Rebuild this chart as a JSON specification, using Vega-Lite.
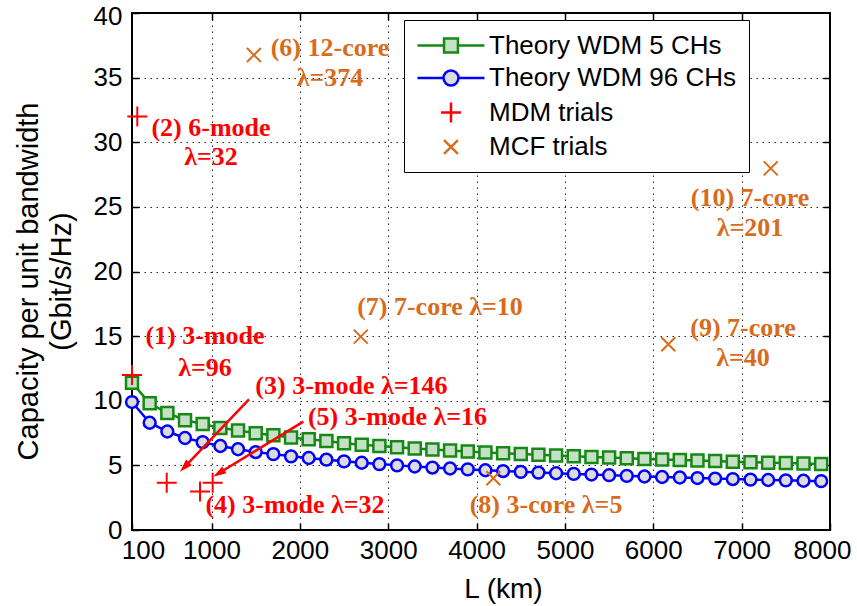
{
  "$schema": "https://vega.github.io/schema/vega-lite/v6.json",
  "width": 698,
  "height": 517,
  "autosize": "none",
  "padding": {"left": 132, "top": 13, "right": 27, "bottom": 76},
  "background": "white",
  "config": {
    "view": {"stroke": "black", "strokeWidth": 2},
    "axis": {
      "labelFont": "Liberation Sans",
      "labelFontSize": 26,
      "labelColor": "black",
      "titleFont": "Liberation Sans",
      "titleFontSize": 28,
      "titleFontWeight": "normal",
      "titleColor": "black",
      "tickColor": "black",
      "tickWidth": 1.5,
      "domain": false
    }
  },
  "datasets": {
    "theory": [
      {"series": "Theory WDM 5 CHs", "L": 100, "cap": 11.4},
      {"series": "Theory WDM 5 CHs", "L": 300, "cap": 9.8},
      {"series": "Theory WDM 5 CHs", "L": 500, "cap": 9.05},
      {"series": "Theory WDM 5 CHs", "L": 700, "cap": 8.5},
      {"series": "Theory WDM 5 CHs", "L": 900, "cap": 8.2},
      {"series": "Theory WDM 5 CHs", "L": 1100, "cap": 7.9},
      {"series": "Theory WDM 5 CHs", "L": 1300, "cap": 7.7},
      {"series": "Theory WDM 5 CHs", "L": 1500, "cap": 7.48},
      {"series": "Theory WDM 5 CHs", "L": 1700, "cap": 7.33},
      {"series": "Theory WDM 5 CHs", "L": 1900, "cap": 7.15},
      {"series": "Theory WDM 5 CHs", "L": 2100, "cap": 7.02},
      {"series": "Theory WDM 5 CHs", "L": 2300, "cap": 6.88},
      {"series": "Theory WDM 5 CHs", "L": 2500, "cap": 6.72},
      {"series": "Theory WDM 5 CHs", "L": 2700, "cap": 6.6},
      {"series": "Theory WDM 5 CHs", "L": 2900, "cap": 6.5},
      {"series": "Theory WDM 5 CHs", "L": 3100, "cap": 6.4},
      {"series": "Theory WDM 5 CHs", "L": 3300, "cap": 6.3},
      {"series": "Theory WDM 5 CHs", "L": 3500, "cap": 6.22},
      {"series": "Theory WDM 5 CHs", "L": 3700, "cap": 6.15},
      {"series": "Theory WDM 5 CHs", "L": 3900, "cap": 6.08},
      {"series": "Theory WDM 5 CHs", "L": 4100, "cap": 6.0},
      {"series": "Theory WDM 5 CHs", "L": 4300, "cap": 5.94},
      {"series": "Theory WDM 5 CHs", "L": 4500, "cap": 5.88},
      {"series": "Theory WDM 5 CHs", "L": 4700, "cap": 5.82},
      {"series": "Theory WDM 5 CHs", "L": 4900, "cap": 5.76},
      {"series": "Theory WDM 5 CHs", "L": 5100, "cap": 5.71},
      {"series": "Theory WDM 5 CHs", "L": 5300, "cap": 5.65},
      {"series": "Theory WDM 5 CHs", "L": 5500, "cap": 5.6},
      {"series": "Theory WDM 5 CHs", "L": 5700, "cap": 5.55},
      {"series": "Theory WDM 5 CHs", "L": 5900, "cap": 5.5},
      {"series": "Theory WDM 5 CHs", "L": 6100, "cap": 5.45},
      {"series": "Theory WDM 5 CHs", "L": 6300, "cap": 5.41},
      {"series": "Theory WDM 5 CHs", "L": 6500, "cap": 5.37},
      {"series": "Theory WDM 5 CHs", "L": 6700, "cap": 5.33},
      {"series": "Theory WDM 5 CHs", "L": 6900, "cap": 5.29},
      {"series": "Theory WDM 5 CHs", "L": 7100, "cap": 5.25},
      {"series": "Theory WDM 5 CHs", "L": 7300, "cap": 5.21},
      {"series": "Theory WDM 5 CHs", "L": 7500, "cap": 5.18},
      {"series": "Theory WDM 5 CHs", "L": 7700, "cap": 5.14},
      {"series": "Theory WDM 5 CHs", "L": 7900, "cap": 5.11},
      {"series": "Theory WDM 96 CHs", "L": 100, "cap": 9.9},
      {"series": "Theory WDM 96 CHs", "L": 300, "cap": 8.3},
      {"series": "Theory WDM 96 CHs", "L": 500, "cap": 7.62},
      {"series": "Theory WDM 96 CHs", "L": 700, "cap": 7.12},
      {"series": "Theory WDM 96 CHs", "L": 900, "cap": 6.8},
      {"series": "Theory WDM 96 CHs", "L": 1100, "cap": 6.5},
      {"series": "Theory WDM 96 CHs", "L": 1300, "cap": 6.25},
      {"series": "Theory WDM 96 CHs", "L": 1500, "cap": 6.03},
      {"series": "Theory WDM 96 CHs", "L": 1700, "cap": 5.87},
      {"series": "Theory WDM 96 CHs", "L": 1900, "cap": 5.7},
      {"series": "Theory WDM 96 CHs", "L": 2100, "cap": 5.57},
      {"series": "Theory WDM 96 CHs", "L": 2300, "cap": 5.44},
      {"series": "Theory WDM 96 CHs", "L": 2500, "cap": 5.31},
      {"series": "Theory WDM 96 CHs", "L": 2700, "cap": 5.2},
      {"series": "Theory WDM 96 CHs", "L": 2900, "cap": 5.1},
      {"series": "Theory WDM 96 CHs", "L": 3100, "cap": 5.0},
      {"series": "Theory WDM 96 CHs", "L": 3300, "cap": 4.91},
      {"series": "Theory WDM 96 CHs", "L": 3500, "cap": 4.83},
      {"series": "Theory WDM 96 CHs", "L": 3700, "cap": 4.76},
      {"series": "Theory WDM 96 CHs", "L": 3900, "cap": 4.69},
      {"series": "Theory WDM 96 CHs", "L": 4100, "cap": 4.62},
      {"series": "Theory WDM 96 CHs", "L": 4300, "cap": 4.56},
      {"series": "Theory WDM 96 CHs", "L": 4500, "cap": 4.5},
      {"series": "Theory WDM 96 CHs", "L": 4700, "cap": 4.44},
      {"series": "Theory WDM 96 CHs", "L": 4900, "cap": 4.39},
      {"series": "Theory WDM 96 CHs", "L": 5100, "cap": 4.34},
      {"series": "Theory WDM 96 CHs", "L": 5300, "cap": 4.29},
      {"series": "Theory WDM 96 CHs", "L": 5500, "cap": 4.24},
      {"series": "Theory WDM 96 CHs", "L": 5700, "cap": 4.19},
      {"series": "Theory WDM 96 CHs", "L": 5900, "cap": 4.14},
      {"series": "Theory WDM 96 CHs", "L": 6100, "cap": 4.1},
      {"series": "Theory WDM 96 CHs", "L": 6300, "cap": 4.06},
      {"series": "Theory WDM 96 CHs", "L": 6500, "cap": 4.02},
      {"series": "Theory WDM 96 CHs", "L": 6700, "cap": 3.98},
      {"series": "Theory WDM 96 CHs", "L": 6900, "cap": 3.94},
      {"series": "Theory WDM 96 CHs", "L": 7100, "cap": 3.9},
      {"series": "Theory WDM 96 CHs", "L": 7300, "cap": 3.87},
      {"series": "Theory WDM 96 CHs", "L": 7500, "cap": 3.84},
      {"series": "Theory WDM 96 CHs", "L": 7700, "cap": 3.81},
      {"series": "Theory WDM 96 CHs", "L": 7900, "cap": 3.78}
    ],
    "trials": [
      {"series": "MDM trials", "id": 1, "L": 100, "cap": 12.0},
      {"series": "MDM trials", "id": 2, "L": 160, "cap": 32.0},
      {"series": "MDM trials", "id": 3, "L": 493, "cap": 3.66},
      {"series": "MDM trials", "id": 4, "L": 870, "cap": 2.97},
      {"series": "MDM trials", "id": 5, "L": 1013, "cap": 3.66},
      {"series": "MCF trials", "id": 6, "L": 1480, "cap": 36.75},
      {"series": "MCF trials", "id": 7, "L": 2689, "cap": 14.96},
      {"series": "MCF trials", "id": 8, "L": 4190, "cap": 4.0},
      {"series": "MCF trials", "id": 9, "L": 6170, "cap": 14.37},
      {"series": "MCF trials", "id": 10, "L": 7329, "cap": 27.98}
    ],
    "notes": [
      {"kind": "MDM", "text": "(1) 3-mode", "L": 926, "cap": 15.0},
      {"kind": "MDM", "text": "λ=96", "L": 926, "cap": 12.55},
      {"kind": "MDM", "text": "(2) 6-mode", "L": 994, "cap": 31.1},
      {"kind": "MDM", "text": "λ=32", "L": 994, "cap": 28.85},
      {"kind": "MDM", "text": "(3) 3-mode λ=146", "L": 2584, "cap": 11.14},
      {"kind": "MDM", "text": "(5) 3-mode λ=16", "L": 3105, "cap": 8.77},
      {"kind": "MDM", "text": "(4) 3-mode λ=32", "L": 1945, "cap": 1.9},
      {"kind": "MCF", "text": "(6) 12-core", "L": 2341, "cap": 37.29},
      {"kind": "MCF", "text": "λ=374", "L": 2341, "cap": 34.97},
      {"kind": "MCF", "text": "(7) 7-core λ=10", "L": 3586, "cap": 17.28},
      {"kind": "MCF", "text": "(8) 3-core λ=5", "L": 4786, "cap": 1.95},
      {"kind": "MCF", "text": "(9) 7-core", "L": 7016, "cap": 15.6},
      {"kind": "MCF", "text": "λ=40", "L": 7016, "cap": 13.28},
      {"kind": "MCF", "text": "(10) 7-core", "L": 7095, "cap": 25.66},
      {"kind": "MCF", "text": "λ=201", "L": 7095, "cap": 23.34}
    ],
    "arrows": [
      {"arrow": "to3", "L": 1424, "cap": 10.11, "L2": 694, "cap2": 4.87},
      {"arrow": "to5", "L": 2039, "cap": 8.38, "L2": 1082, "cap2": 4.39}
    ],
    "keys": [
      {"series": "Theory WDM 5 CHs"},
      {"series": "Theory WDM 96 CHs"},
      {"series": "MDM trials"},
      {"series": "MCF trials"}
    ]
  },
  "resolve": {"axis": {"x": "independent", "y": "independent"}},
  "layer": [
    {
      "data": {"name": "theory"},
      "transform": [{"filter": "datum.series === 'Theory WDM 5 CHs'"}],
      "mark": {"type": "line", "color": "#148a14", "strokeWidth": 2.5},
      "encoding": {
        "x": {
          "field": "L", "type": "quantitative",
          "scale": {"domain": [100, 8000], "nice": false, "zero": false},
          "axis": {
            "orient": "bottom",
            "values": [100, 1000, 2000, 3000, 4000, 5000, 6000, 7000, 8000],
            "format": "d",
            "title": "L (km)",
            "titleX": 371,
            "titlePadding": 12,
            "tickSize": -7,
            "labelPadding": 14,
            "labelOffset": {"condition": [{"test": "datum.value === 100", "value": 11}, {"test": "datum.value === 8000", "value": -8}], "value": 0},
            "labelFlush": false,
            "labelOverlap": false,
            "grid": true,
            "gridColor": "black",
            "gridDash": [1.5, 4.5],
            "gridWidth": 1,
            "gridOpacity": 0.85
          }
        },
        "y": {
          "field": "cap", "type": "quantitative",
          "scale": {"domain": [0, 40], "nice": false},
          "axis": {
            "orient": "left",
            "values": [0, 5, 10, 15, 20, 25, 30, 35, 40],
            "title": ["Capacity per unit bandwidth", "(Gbit/s/Hz)"],
            "titleFontSize": 29,
            "titleLineHeight": 33,
            "titlePadding": 17,
            "titleY": 268,
            "tickSize": -7,
            "labelPadding": 17,
            "labelOffset": {"condition": {"test": "datum.value === 40", "value": 3}, "value": 0},
            "labelFlush": false,
            "labelOverlap": false,
            "grid": true,
            "gridColor": "black",
            "gridDash": [1.5, 4.5],
            "gridWidth": 1,
            "gridOpacity": 0.85
          }
        }
      }
    },
    {
      "data": {"name": "theory"},
      "transform": [{"filter": "datum.series === 'Theory WDM 96 CHs'"}],
      "mark": {"type": "line", "color": "#0000ff", "strokeWidth": 2.5},
      "encoding": {
        "x": {"field": "L", "type": "quantitative", "scale": {"domain": [100, 8000], "nice": false, "zero": false}, "axis": null},
        "y": {"field": "cap", "type": "quantitative", "scale": {"domain": [0, 40], "nice": false}, "axis": null}
      }
    },
    {
      "data": {"name": "theory"},
      "transform": [{"filter": "datum.series === 'Theory WDM 5 CHs'"}],
      "mark": {"type": "point", "shape": "square", "size": 144, "filled": true, "fill": "#c6dfc6", "stroke": "#148a14", "strokeWidth": 2.5, "opacity": 1},
      "encoding": {
        "x": {
          "field": "L", "type": "quantitative",
          "scale": {"domain": [100, 8000], "nice": false, "zero": false},
          "axis": {"orient": "top", "values": [1000, 2000, 3000, 4000, 5000, 6000, 7000], "labels": false, "title": null, "tickSize": -7, "grid": false}
        },
        "y": {
          "field": "cap", "type": "quantitative",
          "scale": {"domain": [0, 40], "nice": false},
          "axis": {"orient": "right", "values": [5, 10, 15, 20, 25, 30, 35], "labels": false, "title": null, "tickSize": -7, "grid": false}
        }
      }
    },
    {
      "data": {"name": "theory"},
      "transform": [{"filter": "datum.series === 'Theory WDM 96 CHs'"}],
      "mark": {"type": "point", "shape": "circle", "size": 140, "filled": true, "fill": "#dcdcdc", "stroke": "#0000ff", "strokeWidth": 2.5, "opacity": 1},
      "encoding": {
        "x": {"field": "L", "type": "quantitative", "scale": {"domain": [100, 8000], "nice": false, "zero": false}, "axis": null},
        "y": {"field": "cap", "type": "quantitative", "scale": {"domain": [0, 40], "nice": false}, "axis": null}
      }
    },
    {
      "data": {"name": "arrows"},
      "mark": {"type": "rule", "color": "#ff0000", "strokeWidth": 2.5},
      "encoding": {
        "x": {"field": "L", "type": "quantitative", "scale": {"domain": [100, 8000], "nice": false, "zero": false}, "axis": null},
        "y": {"field": "cap", "type": "quantitative", "scale": {"domain": [0, 40], "nice": false}, "axis": null},
        "x2": {"field": "L2"},
        "y2": {"field": "cap2"}
      }
    },
    {
      "data": {"name": "arrows"},
      "transform": [{"filter": "datum.arrow === 'to3'"}],
      "mark": {"type": "point", "shape": "M0,-1L-0.62,1L0.62,1Z", "size": 169, "angle": 223.6, "filled": true, "color": "#ff0000", "opacity": 1},
      "encoding": {
        "x": {"field": "L2", "type": "quantitative", "scale": {"domain": [100, 8000], "nice": false, "zero": false}, "axis": null},
        "y": {"field": "cap2", "type": "quantitative", "scale": {"domain": [0, 40], "nice": false}, "axis": null}
      }
    },
    {
      "data": {"name": "arrows"},
      "transform": [{"filter": "datum.arrow === 'to5'"}],
      "mark": {"type": "point", "shape": "M0,-1L-0.62,1L0.62,1Z", "size": 169, "angle": 238.6, "filled": true, "color": "#ff0000", "opacity": 1},
      "encoding": {
        "x": {"field": "L2", "type": "quantitative", "scale": {"domain": [100, 8000], "nice": false, "zero": false}, "axis": null},
        "y": {"field": "cap2", "type": "quantitative", "scale": {"domain": [0, 40], "nice": false}, "axis": null}
      }
    },
    {
      "data": {"name": "trials"},
      "transform": [{"filter": "datum.series === 'MDM trials'"}],
      "mark": {"type": "point", "shape": "M-1,0H1M0,-1V1", "size": 400, "filled": false, "stroke": "#ff0000", "strokeWidth": 2, "opacity": 1},
      "encoding": {
        "x": {"field": "L", "type": "quantitative", "scale": {"domain": [100, 8000], "nice": false, "zero": false}, "axis": null},
        "y": {"field": "cap", "type": "quantitative", "scale": {"domain": [0, 40], "nice": false}, "axis": null}
      }
    },
    {
      "data": {"name": "trials"},
      "transform": [{"filter": "datum.series === 'MCF trials'"}],
      "mark": {"type": "point", "shape": "M-0.7,-0.7L0.7,0.7M-0.7,0.7L0.7,-0.7", "size": 400, "filled": false, "stroke": "#d76c1c", "strokeWidth": 2, "opacity": 1},
      "encoding": {
        "x": {"field": "L", "type": "quantitative", "scale": {"domain": [100, 8000], "nice": false, "zero": false}, "axis": null},
        "y": {"field": "cap", "type": "quantitative", "scale": {"domain": [0, 40], "nice": false}, "axis": null}
      }
    },
    {
      "data": {"name": "notes"},
      "transform": [{"filter": "datum.kind === 'MDM'"}],
      "mark": {"type": "text", "font": "Liberation Serif", "fontWeight": "bold", "fontSize": 26, "align": "center", "baseline": "middle", "color": "#ff0000"},
      "encoding": {
        "x": {"field": "L", "type": "quantitative", "scale": {"domain": [100, 8000], "nice": false, "zero": false}, "axis": null},
        "y": {"field": "cap", "type": "quantitative", "scale": {"domain": [0, 40], "nice": false}, "axis": null},
        "text": {"field": "text", "type": "nominal"}
      }
    },
    {
      "data": {"name": "notes"},
      "transform": [{"filter": "datum.kind === 'MCF'"}],
      "mark": {"type": "text", "font": "Liberation Serif", "fontWeight": "bold", "fontSize": 26, "align": "center", "baseline": "middle", "color": "#d76c1c"},
      "encoding": {
        "x": {"field": "L", "type": "quantitative", "scale": {"domain": [100, 8000], "nice": false, "zero": false}, "axis": null},
        "y": {"field": "cap", "type": "quantitative", "scale": {"domain": [0, 40], "nice": false}, "axis": null},
        "text": {"field": "text", "type": "nominal"}
      }
    },
    {
      "data": {"name": "keys"},
      "mark": {"type": "point", "clip": true, "filled": true, "opacity": 1},
      "encoding": {
        "x": {"datum": 100, "type": "quantitative", "scale": {"domain": [100, 8000], "nice": false, "zero": false}, "axis": null},
        "y": {"datum": -100, "type": "quantitative", "scale": {"domain": [0, 40], "nice": false}, "axis": null},
        "shape": {
          "field": "series", "type": "nominal",
          "scale": {
            "domain": ["Theory WDM 5 CHs", "Theory WDM 96 CHs", "MDM trials", "MCF trials"],
            "range": [
              "M-1,0H1.21M2.37,0H4.58M1.21,-0.58H2.37V0.58H1.21Z",
              "M-1,0H1.17M2.41,0H4.58M2.41,0A0.62,0.62 0 1,1 1.17,0A0.62,0.62 0 1,1 2.41,0Z",
              "M0.96,0H2.62M1.79,-0.83V0.83",
              "M1.21,-0.58L2.37,0.58M1.21,0.58L2.37,-0.58"
            ]
          },
          "legend": {
            "orient": "none",
            "legendX": 272,
            "legendY": 7,
            "title": null,
            "symbolSize": 576,
            "symbolStrokeWidth": 2.5,
            "symbolOpacity": 1,
            "labelFont": "Liberation Sans",
            "labelFontSize": 26,
            "labelColor": "black",
            "labelLimit": 400,
            "labelOffset": 46,
            "padding": 12,
            "rowPadding": 5.5,
            "strokeColor": "black",
            "fillColor": "white",
            "encode": {"legend": {"update": {"strokeWidth": {"value": 2}}}}
          }
        },
        "fill": {
          "field": "series", "type": "nominal",
          "scale": {
            "domain": ["Theory WDM 5 CHs", "Theory WDM 96 CHs", "MDM trials", "MCF trials"],
            "range": ["#c6dfc6", "#dcdcdc", "transparent", "transparent"]
          }
        },
        "stroke": {
          "field": "series", "type": "nominal",
          "scale": {
            "domain": ["Theory WDM 5 CHs", "Theory WDM 96 CHs", "MDM trials", "MCF trials"],
            "range": ["#148a14", "#0000ff", "#ff0000", "#d76c1c"]
          }
        }
      }
    }
  ]
}
